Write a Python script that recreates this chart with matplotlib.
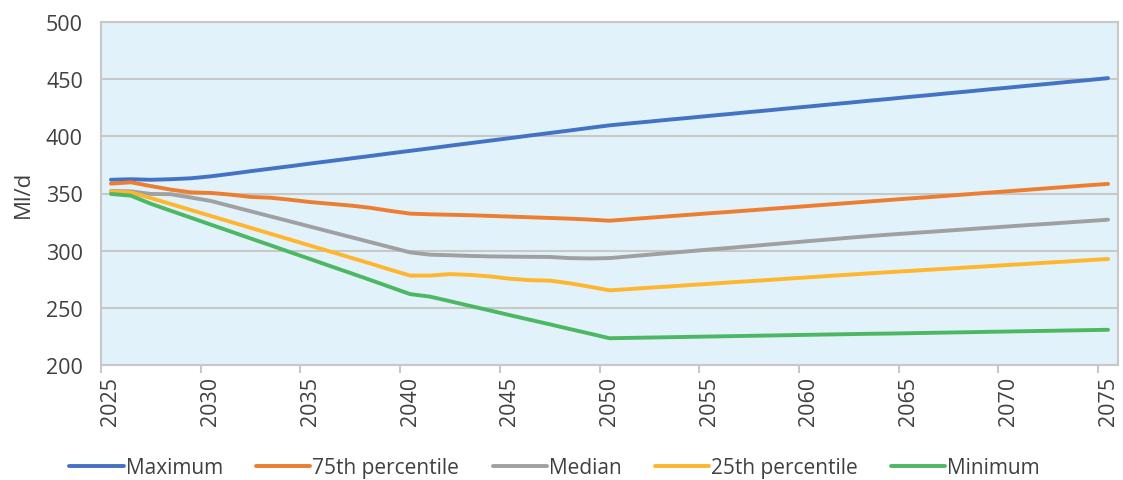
import matplotlib
matplotlib.use("Agg")
import matplotlib.pyplot as plt
from matplotlib.ticker import FixedLocator, NullFormatter

years = list(range(2025, 2076))

maximum = [362.0, 362.5, 362.0, 362.5, 363.3, 365.0, 367.2, 369.5, 371.7, 373.9,
           376.2, 378.4, 380.6, 382.8, 385.1, 387.3, 389.5, 391.8, 394.0, 396.2,
           398.4, 400.7, 402.9, 405.1, 407.4, 409.6, 411.3, 412.9, 414.6, 416.2,
           417.9, 419.5, 421.2, 422.8, 424.5, 426.1, 427.8, 429.4, 431.1, 432.7,
           434.4, 436.0, 437.7, 439.3, 441.0, 442.6, 444.3, 445.9, 447.6, 449.2,
           450.9]

pct75 = [358.6, 359.8, 356.5, 353.4, 351.0, 350.5, 349.0, 347.0, 346.3, 344.5,
         342.5, 341.0, 339.5, 337.5, 334.8, 332.4, 331.8, 331.4, 331.0, 330.4,
         329.8, 329.2, 328.6, 328.0, 327.2, 326.2, 327.5, 328.8, 330.1, 331.4,
         332.7, 333.9, 335.2, 336.5, 337.8, 339.1, 340.4, 341.7, 343.0, 344.3,
         345.6, 346.8, 348.1, 349.4, 350.7, 352.0, 353.3, 354.6, 355.9, 357.2,
         358.4]

median = [352.2, 351.9, 349.6, 349.4, 346.5, 343.5, 339.0, 334.5, 330.0, 325.5,
          321.0, 316.5, 312.0, 307.5, 303.0, 298.5, 296.5, 296.0, 295.4, 295.0,
          294.8, 294.6, 294.5, 293.5, 293.2, 293.5, 295.0, 296.5, 298.0, 299.5,
          301.0, 302.4, 303.9, 305.4, 306.9, 308.4, 309.8, 311.3, 312.7, 314.0,
          315.2, 316.4, 317.6, 318.8, 320.0, 321.2, 322.4, 323.5, 324.7, 325.9,
          327.1]

pct25 = [351.6, 351.0, 346.0, 340.8, 335.6, 330.4, 325.2, 320.0, 314.8, 309.6,
         304.4, 299.2, 294.0, 288.8, 283.4, 278.2, 278.2, 279.5, 278.8, 277.5,
         275.5, 274.2, 273.8, 271.5, 268.5, 265.3, 266.4, 267.6, 268.7, 269.9,
         271.0, 272.2, 273.3, 274.4, 275.6, 276.7, 277.9, 279.0, 280.1, 281.2,
         282.2, 283.3, 284.3, 285.4, 286.4, 287.5, 288.5, 289.6, 290.6, 291.7,
         292.7]

minimum = [349.6, 348.1, 341.0, 334.9, 328.9, 322.8, 316.8, 310.7, 304.7, 298.6,
           292.6, 286.5, 280.5, 274.4, 268.2, 262.0, 259.8, 255.8, 251.7, 247.7,
           243.6, 239.6, 235.6, 231.5, 227.5, 223.4, 223.7, 224.0, 224.3, 224.6,
           224.9, 225.2, 225.5, 225.8, 226.1, 226.4, 226.7, 227.0, 227.3, 227.5,
           227.8, 228.1, 228.4, 228.7, 229.0, 229.3, 229.6, 229.9, 230.2, 230.5,
           230.8]

series_names = ["Maximum", "75th percentile", "Median", "25th percentile", "Minimum"]
series_colors = ["#4472C4", "#ED7D31", "#A0A0A0", "#FFB62E", "#4DB863"]
y_ticks = [200, 250, 300, 350, 400, 450, 500]
x_label_years = list(range(2025, 2076, 5))

plt.rcParams["font.family"] = ["Open Sans", "DejaVu Sans"]
text_color = "#404040"
grid_color = "#C8C8C8"

fig = plt.figure(figsize=(11.23, 4.81), dpi=100)
ax = fig.add_axes([101 / 1123, 1 - 366 / 481, 1017 / 1123, 343 / 481])
ax.set_facecolor("#E1F2FA")

for vals, name, col in zip([maximum, pct75, median, pct25, minimum],
                           series_names, series_colors):
    ax.plot(years, vals, color=col, lw=2.8, label=name,
            solid_capstyle="round", solid_joinstyle="round", zorder=3)

ax.set_xlim(2024.5, 2075.5)
ax.set_ylim(200, 500)

ax.set_yticks(y_ticks)
ax.yaxis.grid(True, color=grid_color, lw=1.5, zorder=1)
ax.set_axisbelow(True)
ax.tick_params(axis="y", length=0, pad=13, labelsize=15.5, labelcolor=text_color)

# category labels sit on the years, tick marks sit between the categories
ax.set_xticks(x_label_years)
ax.set_xticklabels([str(y) for y in x_label_years], rotation=90)
ax.tick_params(axis="x", which="major", length=0, pad=8, labelsize=15.5,
               labelcolor=text_color)
ax.xaxis.set_minor_locator(FixedLocator([y - 0.5 for y in x_label_years]))
ax.xaxis.set_minor_formatter(NullFormatter())
ax.tick_params(axis="x", which="minor", length=6, width=1.5, color=grid_color)

for side in ["left", "right", "top", "bottom"]:
    ax.spines[side].set_color(grid_color)
    ax.spines[side].set_linewidth(1.5)

ax.set_ylabel("Ml/d", fontsize=16, color=text_color, labelpad=9)

fig.legend(loc="center", bbox_to_anchor=(0.494, 1 - 469 / 481), ncol=5,
           frameon=False, fontsize=15, handlelength=2.6, handletextpad=0.1,
           columnspacing=1.6, labelcolor=text_color)

fig.savefig("out.png", dpi=100)
